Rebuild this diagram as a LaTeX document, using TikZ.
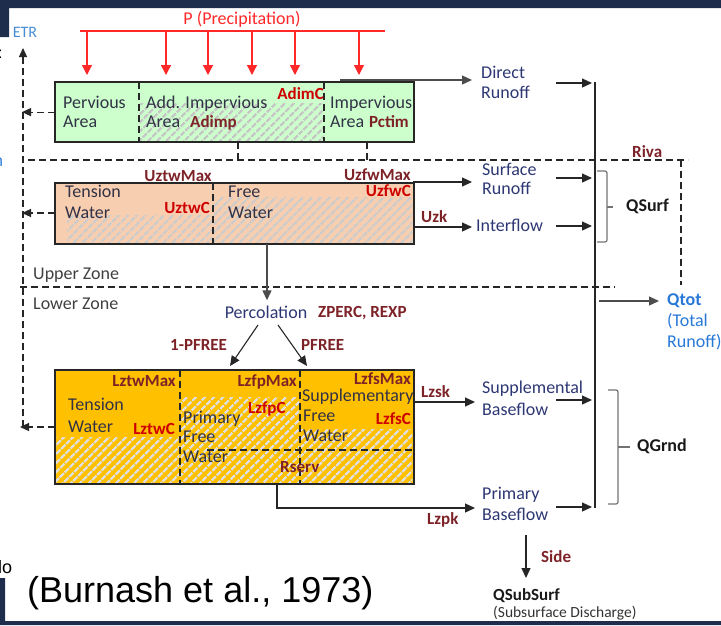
\documentclass[tikz,border=0pt]{standalone}
\usepackage{fontspec}
\setmainfont{Carlito}
\newfontfamily\citefont{Liberation Sans}
\usetikzlibrary{arrows.meta,patterns.meta,positioning}

\definecolor{slidenavy}{RGB}{30,45,75}
\definecolor{areagreen}{RGB}{204,255,204}
\definecolor{upperpeach}{RGB}{248,206,176}
\definecolor{lowerorange}{RGB}{255,192,0}
\definecolor{flowblue}{RGB}{45,55,115}
\definecolor{boxtext}{RGB}{50,50,70}
\definecolor{parambrown}{RGB}{125,35,40}
\definecolor{paramred}{RGB}{205,0,0}
\definecolor{rainred}{RGB}{255,40,40}
\definecolor{etrblue}{RGB}{70,140,215}
\definecolor{qtotblue}{RGB}{40,120,215}

\tikzset{
  lbl/.style={anchor=base west, inner sep=0pt, text=flowblue,
    font=\fontsize{18}{20}\selectfont},
  inbox/.style={lbl, text=boxtext},
  param/.style={lbl, text=parambrown, font=\fontsize{17}{20}\selectfont\bfseries},
  paramr/.style={param, anchor=base east},
  cparam/.style={param, text=paramred},
  cparamr/.style={paramr, text=paramred},
  store/.style={draw=black!85, line width=1.2pt, anchor=north west, inner sep=0pt},
  hatch/.style={pattern={Lines[angle=45,distance=6.5pt,line width=2.4pt]}, pattern color=#1},
  flow/.style={-{Triangle[length=10pt,width=9pt]}, line width=1.3pt, black!85},
  rain/.style={-{Triangle[length=10pt,width=10pt]}, line width=1.3pt, rainred},
  zone/.style={line width=1.1pt, black!85, dash pattern=on 7pt off 4pt},
  leak/.style={zone, -{Triangle[length=9pt,width=8pt]}},
  bracket/.style={line width=1.2pt, black!55, rounded corners=2pt},
}

\begin{document}
\begin{tikzpicture}[x=1pt,y=-1pt]
\useasboundingbox (0,0) rectangle (721,625);

% slide frame
\fill[slidenavy] (0,0) rectangle (721,8) (0,0) rectangle (9,37)
  (0,578) rectangle (5,625) (0,621) rectangle (721,625);
\node[lbl, text=black, font=\citefont\fontsize{16}{18}\selectfont] (cutA) at (-2,58) {:};
\node[lbl, text=qtotblue, font=\citefont\fontsize{16}{18}\selectfont] (cutB) at (-6,166) {n};
\node[lbl, text=black, font=\citefont\fontsize{18}{20}\selectfont] (cutC) at (-2,573) {lo};

% precipitation
\node[lbl, anchor=base, text=rainred] (precip) at (242,24) {P (Precipitation)};
\coordinate (rainL) at (80,31);
\coordinate (rainR) at (385,31);
\draw[rainred, line width=2pt] (rainL) -- (rainR);

% storages
\node[store, fill=areagreen, minimum width=358pt, minimum height=59pt] (topbox) at (55,82) {};
\node[store, fill=upperpeach, minimum width=358pt, minimum height=60pt] (upbox) at (55,183) {};
\node[store, fill=lowerorange, minimum width=358pt, minimum height=113pt] (lowbox) at (55,370) {};

\foreach \x in {87,166,208,252,295,359}
  \draw[rain] (\x,0 |- rainL) -- (\x,0 |- topbox.north) [shorten >=7pt];

% hatched parts
\fill[hatch=gray!45] (139.6,103) rectangle (323.4,140.4);
\fill[hatch=gray!40] (67,215) rectangle (212.4,242.4);
\fill[hatch=gray!40] (213.6,197) rectangle (412.4,242.4);
\fill[hatch=gray!25] (55.6,437) rectangle (179.4,482.4);
\fill[hatch=gray!25] (180.6,397) rectangle (299.4,482.4);
\fill[hatch=gray!25] (300.6,429) rectangle (412.4,482.4);
\draw[black!85, line width=1.2pt] (topbox.north west) rectangle (topbox.south east)
  (upbox.north west) rectangle (upbox.south east)
  (lowbox.north west) rectangle (lowbox.south east);

% dividers
\draw[zone] (139,0 |- topbox.north) -- (139,0 |- topbox.south);
\draw[zone] (324,0 |- topbox.north) -- (324,0 |- topbox.south);
\draw[zone] (213,0 |- upbox.north) -- (213,0 |- upbox.south);
\draw[zone] (180,0 |- lowbox.north) -- (180,0 |- lowbox.south);
\draw[zone] (300,0 |- lowbox.north) -- (300,0 |- lowbox.south);
\draw[zone] (207,450) -- (413,450);

% zone lines
\coordinate (rivaL) at (28,160);
\coordinate (rivaR) at (688,160);
\coordinate (rivaDn) at (681,285);
\coordinate (zoneL) at (20,287);
\coordinate (zoneR) at (615,287);
\draw[zone] (rivaL) -- (rivaR);
\draw[zone] (rivaDn |- rivaR) -- (rivaDn);
\draw[zone] (zoneL) -- (zoneR);
\draw[zone] (238,0 |- topbox.south) -- (238,0 |- rivaL);
\draw[zone] (367,0 |- topbox.south) -- (367,0 |- rivaL);

% evaporation
\node[lbl, anchor=base, text=etrblue, font=\fontsize{16}{18}\selectfont] (etr) at (25,37) {ETR};
\coordinate (etrBot) at (23,427);
\draw[leak] (etrBot) -- (23,48);
\draw[leak] (topbox.west) -- (topbox.west -| etrBot) [shorten >=-1pt];
\draw[leak] (55,213) -- (etrBot |- 0,213) [shorten >=-1pt];
\draw[leak] (55,427) -- (etrBot) [shorten >=-3pt];

% top box labels
\node[inbox] (perv) at (63,108) {Pervious};
\node[inbox] (pervB) at (63,127) {Area};
\node[inbox] (addImp) at (146,108) {Add. Impervious};
\node[inbox] (addImpB) at (146,127) {Area};
\node[param] (adimp) at (190,127) {Adimp};
\node[cparamr] (adimc) at (324,99) {AdimC};
\node[inbox] (imp) at (330,108) {Impervious};
\node[inbox] (impB) at (330,127) {Area};
\node[param] (pctim) at (369,127) {Pctim};

% upper zone labels
\node[inbox] (utw) at (65,197) {Tension};
\node[inbox] (utwB) at (65,218) {Water};
\node[paramr] (uztwmax) at (212,181) {UztwMax};
\node[cparamr] (uztwc) at (210,213) {UztwC};
\node[inbox] (ufw) at (228,197) {Free};
\node[inbox] (ufwB) at (228,218) {Water};
\node[paramr] (uzfwmax) at (411,180) {UzfwMax};
\node[cparamr] (uzfwc) at (411,196) {UzfwC};

% lower zone labels
\node[inbox] (ltw) at (68,410) {Tension};
\node[inbox] (ltwB) at (68,432) {Water};
\node[paramr] (lztwmax) at (176,386) {LztwMax};
\node[cparamr] (lztwc) at (175,434) {LztwC};
\node[inbox] (lfp) at (183,423) {Primary};
\node[inbox] (lfpB) at (183,442) {Free};
\node[inbox] (lfpC) at (183,462) {Water};
\node[paramr] (lzfpmax) at (297,386) {LzfpMax};
\node[cparam] (lzfpc) at (248,413) {LzfpC};
\node[paramr] (lzfsmax) at (411,384) {LzfsMax};
\node[inbox] (lfs) at (302,401) {Supplementary};
\node[inbox] (lfsB) at (303,421) {Free};
\node[inbox] (lfsC) at (303,441) {Water};
\node[cparamr] (lzfsc) at (411,424) {LzfsC};
\node[param] (rserv) at (280,472) {Rserv};

\node[lbl, text=black!75] (upz) at (33,279) {Upper Zone};
\node[lbl, text=black!75] (lowz) at (33,309) {Lower Zone};
\node[param] (riva) at (632,157) {Riva};

% runoff components
\node[lbl] (dro) at (481,78) {Direct};
\node[lbl] (droB) at (481,98) {Runoff};
\node[lbl] (sro) at (482,175) {Surface};
\node[lbl] (sroB) at (482,194) {Runoff};
\node[lbl] (intf) at (476,231) {Interflow};
\node[param] (uzk) at (421,222) {Uzk};
\node[lbl] (sbf) at (482,393) {Supplemental};
\node[lbl] (sbfB) at (482,415) {Baseflow};
\node[param] (lzsk) at (421,397) {Lzsk};
\node[lbl] (pbf) at (482,499) {Primary};
\node[lbl] (pbfB) at (482,520) {Baseflow};
\node[param] (lzpk) at (427,524) {Lzpk};

\coordinate (droOut) at (340,80);
\coordinate (sroOut) at (413,182);
\coordinate (intOut) at (413,227);
\coordinate (sbfOut) at (413,402);
\coordinate (pbfOut) at (277,483);
\draw[flow, black!70] (droOut) -- (droOut -| dro.west) [shorten >=9pt];
\draw[flow] (sroOut) -- (sroOut -| sro.west) [shorten >=10pt];
\draw[flow] (intOut) -- (intOut -| intf.west) [shorten >=4pt];
\draw[flow] (sbfOut) -- (sbfOut -| sbf.west) [shorten >=7pt];
\draw[flow] (pbfOut) |- (pbf.west |- 0,508) [shorten >=7pt];

% collector
\coordinate (colTop) at (595,82);
\coordinate (colBot) at (595,508);
\draw[line width=1.3pt, black!85] (colTop) -- (colBot);
\foreach \y in {83,178,226,400,507}
  \draw[flow] (556,\y) -- (colTop |- 0,\y) [shorten >=3pt];

% brackets
\draw[bracket] (597,171) -- (607,171) -- (607,242) -- (597,242);
\draw[bracket, rounded corners=0pt] (607,207) -- (613,207);
\node[lbl, text=black!90, font=\fontsize{18}{20}\selectfont\bfseries] (qsurf) at (626,211) {QSurf};
\draw[bracket] (608,390) -- (618,390) -- (618,504) -- (608,504);
\draw[bracket, rounded corners=0pt] (618,447) -- (630,447);
\node[lbl, text=black!90, font=\fontsize{18}{20}\selectfont\bfseries] (qgrnd) at (637,451) {QGrnd};

% total runoff
\node[lbl, text=qtotblue, font=\fontsize{18}{20}\selectfont\bfseries] (qtot) at (667,305) {Qtot};
\node[lbl, text=qtotblue] (qtotB) at (667,326) {(Total};
\node[lbl, text=qtotblue] (qtotC) at (667,347) {Runoff)};
\coordinate (qtotIn) at (599,301);
\draw[flow, black!70] (qtotIn) -- (qtotIn -| qtot.west) [shorten >=8pt];

% percolation
\node[lbl, anchor=base] (perc) at (266,318) {Percolation};
\node[param] (zperc) at (318,317) {ZPERC, REXP};
\draw[flow, black!70] (267,0 |- upbox.south) -- (267,0 |- perc.north) [shorten >=5pt];
\coordinate (percL) at (258,325);
\coordinate (percR) at (278,325);
\draw[flow, line width=1.1pt] (percL) -- (230,366);
\draw[flow, line width=1.1pt] (percR) -- (307,366);
\node[param] (pfreeL) at (170,350) {1-PFREE};
\node[param] (pfreeR) at (301,350) {PFREE};

% subsurface discharge
\coordinate (sideTop) at (526,535);
\coordinate (sideBot) at (526,578);
\draw[flow] (sideTop) -- (sideBot);
\node[param] (side) at (541,562) {Side};
\node[lbl, text=black!90, font=\fontsize{17}{20}\selectfont\bfseries] (qsub) at (493,600) {QSubSurf};
\node[lbl, text=black!80, font=\fontsize{15.5}{18}\selectfont] (qsubB) at (493,617) {(Subsurface Discharge)};

% citation
\node[lbl, text=black, font=\citefont\fontsize{36}{40}\selectfont] (cite) at (27,602) {(Burnash et al., 1973)};
\end{tikzpicture}
\end{document}
